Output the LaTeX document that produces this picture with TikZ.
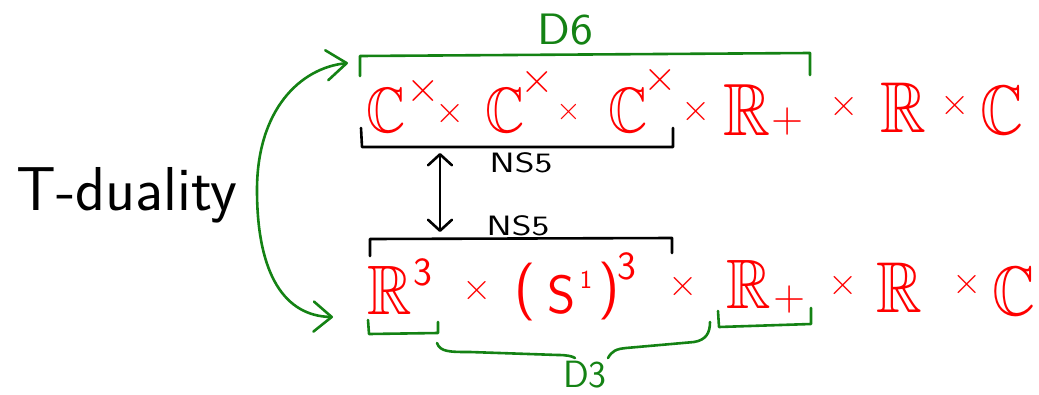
\documentclass[tikz,border=0pt]{standalone}
\usepackage{amssymb}
\usetikzlibrary{arrows.meta}
\definecolor{inkred}{RGB}{255,0,0}
\definecolor{inkgreen}{RGB}{20,130,20}
\newcommand\setfs[1]{\fontsize{#1}{#1}\selectfont}
\newcommand\dsC{\scalebox{0.85}[1]{$\mathbb{C}$}}
\newcommand\dsR{\scalebox{0.88}[1]{$\mathbb{R}$}}
\tikzset{
  pen/.style={line width=2.6pt, line cap=round, line join=round},
  factor/.style={inkred, inner sep=0pt, anchor=base, font=\sffamily\setfs{#1}},
  factor/.default=66,
  times/.style={inkred, inner sep=0pt, font=\sffamily\setfs{#1}},
  times/.default=40,
  script/.style={inkred, inner sep=0pt, font=\sffamily\setfs{#1}},
  hand/.style={inner sep=0pt, font=\sffamily\setfs{#1}},
}
\begin{document}
\begin{tikzpicture}[x=1pt, y=-1pt]
\useasboundingbox (0,0) rectangle (1039,394);

% label on the left
\node[hand=62, anchor=base] (tdual) at (127,210) {T-duality};

% upper product space
\node[factor=64] (c1) at (386,132) {\dsC};
\node[script=46] (c1x) at (423,91) {×};
\node[times] (m1) at (450,114) {×};
\node[factor=64] (c2) at (505,132) {\dsC};
\node[script=46] (c2x) at (537,82) {×};
\node[times=34] (m2) at (569,112) {×};
\node[factor=64] (c3) at (628,132) {\dsC};
\node[script=46] (c3x) at (660,80) {×};
\node[times] (m3) at (696,112) {×};
\node[factor=74] (r1) at (747,135) {\dsR};
\node[script=44] (r1p) at (788,122) {+};
\node[times] (m4) at (844,107) {×};
\node[factor=72] (r2) at (903,132) {\dsR};
\node[times] (m5) at (955,106) {×};
\node[factor=70] (c4) at (1002,134) {\dsC};

% lower product space
\node[factor=70] (r3) at (390,314) {\dsR};
\node[script=40] (r3e) at (423,272) {3};
\node[times] (m6) at (477,291) {×};
\node[script=58] (lpar) at (525,292) {(};
\node[script=54] (s1) at (562,295) {S};
\node[script=26] (s1e) at (586,280) {1};
\node[script=58] (rpar) at (609,291) {)};
\node[script=40] (s1p) at (627,266) {3};
\node[times] (m7) at (683,287) {×};
\node[factor=70] (r4) at (749,308) {\dsR};
\node[script=44] (r4p) at (790,300) {+};
\node[times] (m8) at (843,286) {×};
\node[factor=72] (r5) at (899,312) {\dsR};
\node[times] (m9) at (967,285) {×};
\node[factor=70] (c5) at (1014,315) {\dsC};

% brane labels
\node[hand=44, inkgreen] (d6) at (565,30) {\scalebox{1.1}[1]{D6}};
\node[hand=38, inkgreen] (d3) at (585,375) {D3};
\node[hand=28] (ns5a) at (521,163) {\scalebox{1.35}[1]{NS5}};
\node[hand=28] (ns5b) at (518,226) {\scalebox{1.35}[1]{NS5}};

% brackets
\draw[pen, inkgreen] (360,76) -- (360,56) -- (810,53) -- (810,75);
\draw[pen] (361,128) -- (362,147) -- (673,147) -- (673,128);
\draw[pen] (370,256) -- (370,239) -- (672,238) -- (672,253);
\draw[pen, inkgreen] (368,320) -- (369,334) -- (438,333) -- (438,322);
\draw[pen, inkgreen] (718,311) -- (719,327) -- (811,324) -- (811,308);
\draw[pen, inkgreen] (437,343) .. controls (440,352) and (450,352) .. (470,352)
  -- (558,355) .. controls (566,355) and (572,356) .. (575,358);
\draw[pen, inkgreen] (608,358) .. controls (612,351) and (616,349) .. (626,348)
  -- (694,342) .. controls (706,340) and (710,333) .. (710,322);

% dualities
\coordinate (dTop) at (348,63);
\coordinate (dBot) at (333,317);
\draw[pen, inkgreen, {Straight Barb[round,length=20pt,width=30pt]}-{Straight Barb[round,length=18pt,width=30pt]}]
  (dTop) .. controls (300,68) and (257,110) .. (257,190)
         .. controls (257,275) and (285,316) .. (dBot);
\coordinate (nsTop) at (440,153);
\coordinate (nsBot) at (440,232);
\draw[pen, {Straight Barb[round,length=11pt,width=24pt]}-{Straight Barb[round,length=11pt,width=24pt]}]
  (nsTop) -- (nsBot);
\end{tikzpicture}
\end{document}
